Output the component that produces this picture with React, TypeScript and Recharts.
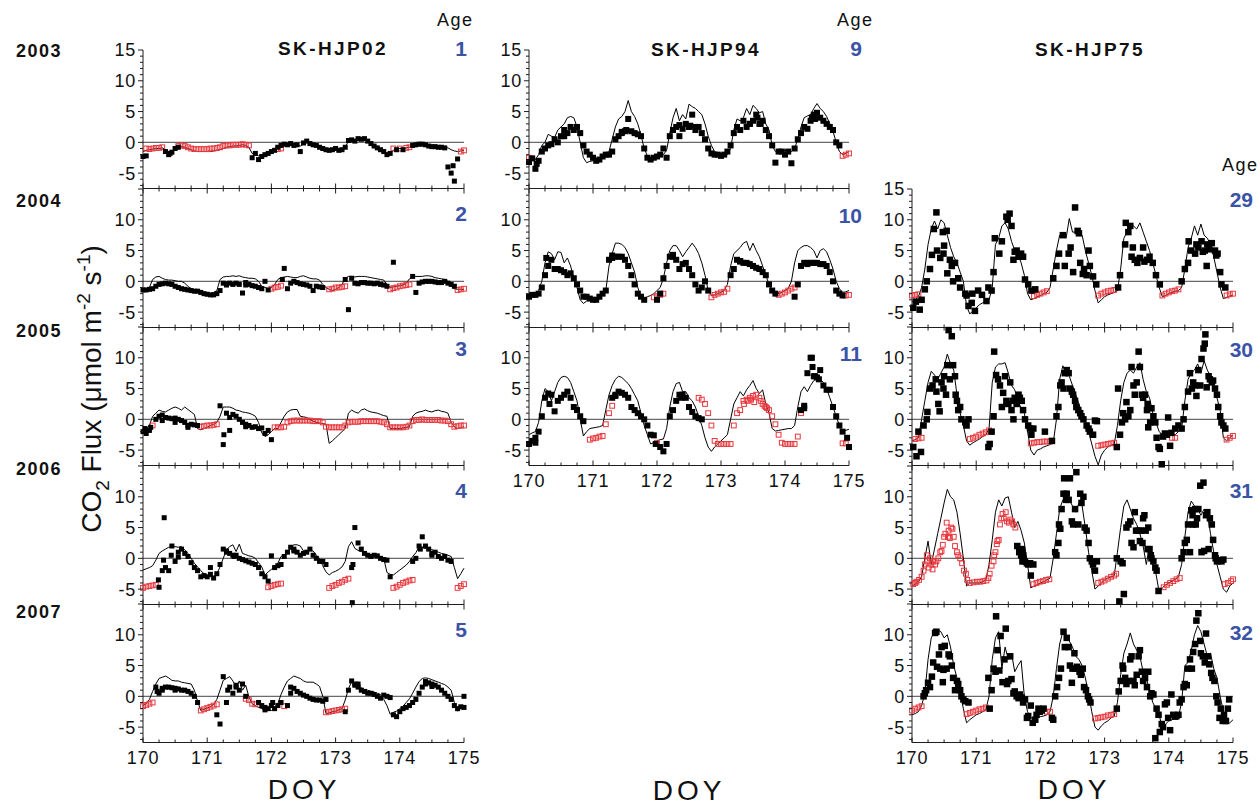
import React from 'react';
import { ComposedChart, Line, Scatter, XAxis, YAxis, ReferenceLine } from 'recharts';

const n = null;

// ---- axis ticks / labels ----
const xTicks = [170, 170.25, 170.5, 170.75, 171, 171.25, 171.5, 171.75, 172, 172.25, 172.5, 172.75, 173, 173.25, 173.5, 173.75, 174, 174.25, 174.5, 174.75, 175];
const xTickLabels = ['170', '171', '172', '173', '174', '175'];
const yTicks = [-7, -6, -5, -4, -3, -2, -1, 0, 1, 2, 3, 4, 5, 6, 7, 8, 9, 10, 11, 12, 13, 14, 15];
const yLabelsTop = [-5, 0, 5, 10, 15];
const yLabelsRest = [-5, 0, 5, 10];

const siteNames = ['SK-HJP02', 'SK-HJP94', 'SK-HJP75'];
const yearLabels = ['2003', '2004', '2005', '2006', '2007'];
const agesHJP02 = ['1', '2', '3', '4', '5'];
const agesHJP94 = ['9', '10', '11'];
const agesHJP75 = ['29', '30', '31', '32'];

// ---- SK-HJP02 (grid: DOY 170 .. 175 every 0.05 day) ----
const m02_03 = [
  -1.5, -1.3, -1.2, -1.1, -1.0, -1.0, -0.9, -1.2, -1.6, -1.5, -1.0, -0.8, -0.7, -0.8, -1.0, -1.2, -1.4, -1.5, -1.5, -1.5,
  -1.5, -1.5, -1.4, -1.3, -1.2, -1.0, -0.8, -0.7, -0.6, -0.6, -0.5, -0.4, -0.5, -0.8, -1.8, -2.0, -2.2, -2.0, -1.8, -1.6,
  -1.3, -1.0, -0.9, -0.8, -0.5, -0.3, -0.3, -0.3, -0.4, -0.6, -0.3, 0.0, -0.2, -0.4, -0.6, -0.8, -1.0, -1.2, -1.3, -1.2,
  -1.0, -1.2, -1.1, -0.8, 0.2, 0.4, 0.3, 0.5, 0.5, 0.4, 0.1, -0.2, -0.6, -0.9, -1.2, -1.4, -1.8, -1.7, -1.3, -1.1,
  -1.0, -1.0, -0.9, -0.8, -0.5, -0.4, -0.4, -0.4, -0.5, -0.6, -0.7, -0.7, -0.8, -0.8, -0.8, -0.9, -1.2, -1.4, -1.5, -1.4,
  -1.3];
const o02_03 = [
  -2.3, -2.2, n, n, n, n, n, -1.5, -2.0, -1.6, -1.0, -0.8, n, n, n, n, n, n, n, n,
  n, n, n, n, n, n, n, n, n, n, n, n, n, n, -2.5, -1.8, -2.8, -2.3, -2.0, -1.8,
  -1.5, -1.3, -0.8, -0.5, -0.3, -0.4, -0.2, -0.5, -0.4, -1.5, -0.1, 0.2, -0.2, -0.4, -0.5, -0.8, -1.0, -1.2, -1.3, -1.2,
  -1.0, -1.3, -1.2, -0.8, 0.3, 0.4, 0.2, 0.6, 0.5, 0.6, 0.2, -0.2, -0.6, -0.9, -1.2, -1.5, -2.0, -1.8, n, -1.2,
  n, -1.2, n, n, -0.5, -0.4, -0.3, -0.3, -0.4, -0.6, -0.7, -0.7, -0.8, -0.8, -0.9, -4.0, -5.0, -6.3, -2.7, n,
  n];
const x02_03 = [[174.83, -3.8], [170.42, -1.8]];
const g02_03 = [
  n, -1.0, -1.1, -1.0, -0.9, -0.9, -0.8, n, n, n, n, -0.6, -0.5, -0.6, -0.8, -1.0, -1.1, -1.1, -1.1, -1.1,
  -1.1, -1.0, -1.0, -0.9, -0.8, -0.6, -0.5, -0.5, -0.4, -0.4, -0.4, -0.3, -0.4, -0.5, n, n, n, n, n, n,
  n, n, -1.1, -1.0, n, n, n, n, n, n, n, n, n, n, n, n, n, n, n, n,
  n, n, n, n, n, n, n, n, n, n, n, n, n, n, n, n, n, n, -1.0, n,
  -1.0, n, -0.9, -0.8, n, n, n, n, n, n, n, n, n, n, n, n, n, n, n, -1.5,
  -1.3];

const m02_04 = [
  -1.3, -1.3, -1.0, 0.3, 0.7, 0.8, 0.5, 0.3, 0.2, 0.2, 0.1, 0.0, 0.0, -0.3, -0.8, -1.2, -1.5, -1.7, -1.9, -2.0,
  -2.2, -2.0, -1.8, -1.5, 0.3, 0.7, 0.8, 0.8, 0.9, 0.8, 0.9, 0.7, 0.6, 0.5, 0.5, 0.4, 0.0, -0.8, -1.0, -1.2,
  -1.0, -0.5, 0.3, 0.6, 0.7, 0.8, 0.7, 0.6, 0.6, 0.8, 0.9, 0.7, 0.5, 0.4, 0.4, 0.2, -0.5, -1.0, -1.3, -1.5,
  -1.3, -1.0, -0.5, 0.5, 0.8, 0.8, 0.7, 0.8, 0.8, 0.8, 0.7, 0.6, 0.5, 0.4, 0.3, 0.2, -0.5, -1.0, -0.9, -0.8,
  -0.7, -0.6, -0.3, 0.4, 0.7, 0.8, 0.8, 0.8, 0.9, 0.9, 0.8, 0.6, 0.5, 0.4, 0.3, 0.0, -0.8, -1.2, -1.3, -1.3,
  -1.3];
const o02_04 = [
  -1.4, -1.4, -1.3, -1.2, -0.8, -0.5, -0.4, -0.3, -0.4, -0.5, -0.8, -1.0, -1.2, -1.3, -1.4, -1.5, -1.6, -1.6, -1.8, -2.0,
  -2.1, -2.2, -2.2, -2.0, -1.5, -0.3, -0.4, -0.3, -0.5, -0.3, -0.5, -1.9, -0.6, -0.5, -0.7, -0.8, -1.0, -1.2, 0.0, -1.4,
  n, n, n, n, 2.1, -1.2, -0.3, 0.0, -0.2, -0.4, -0.5, -0.6, -0.8, -1.5, -0.8, -0.9, -1.0, n, n, n,
  n, n, n, 0.3, -4.6, 0.5, -0.3, -0.4, -0.2, -0.2, -0.3, -0.3, -0.4, -0.3, -0.5, -0.6, -0.8, n, 3.1, n,
  n, n, n, n, 0.8, -1.8, -0.3, -0.1, 0.0, 0.0, 0.0, -0.1, -0.2, -0.2, 0.0, -0.3, -0.5, -0.8, n, n,
  n];
const x02_04 = [[172.17, 0.3], [171.3, -0.6], [171.6, -0.2]];
const g02_04 = [
  n, n, n, n, n, n, n, n, n, n, n, n, n, n, n, n, n, n, n, n,
  n, n, n, n, n, n, n, n, n, n, n, n, n, n, n, n, n, n, n, n,
  -1.2, -1.0, -0.9, -0.7, n, n, n, n, n, n, n, n, n, n, n, n, n, n, -1.3, -1.2,
  -1.0, -1.0, -0.9, -0.8, n, n, n, n, n, n, n, n, n, n, n, n, n, -1.3, -1.1, -1.0,
  -0.8, -0.7, -0.6, -0.5, n, n, n, n, n, n, n, n, n, n, n, n, n, n, -1.4, -1.3,
  -1.2];

const m02_05 = [
  -2.0, -1.5, -1.0, 0.5, 1.0, 1.5, 1.3, 1.2, 1.5, 1.8, 2.0, 1.8, 1.5, 2.0, 1.6, 1.2, 0.8, -1.5, -1.7, -1.5,
  -1.3, -1.0, -0.8, -0.5, 0.5, 2.0, 2.0, 2.0, 1.8, 1.5, 1.4, 1.2, 1.1, 1.0, 0.8, 0.5, -0.5, -2.2, -2.8, -2.5,
  -2.0, -1.5, -1.5, -0.5, 0.5, 1.2, 1.5, 1.6, 1.6, 0.5, 0.4, 0.3, 0.0, -0.3, -0.5, -0.6, -0.7, -0.8, -3.9, -3.5,
  -3.0, -2.5, -2.0, -1.5, 1.0, 1.5, 1.2, 1.0, 1.5, 1.7, 1.4, 1.2, 1.1, 1.0, 0.8, 0.6, 0.5, -1.5, -1.5, -1.5,
  -1.5, -1.4, -1.3, -1.2, 0.5, 1.0, 1.2, 1.3, 1.5, 1.3, 1.2, 1.4, 1.5, 1.3, 1.2, 1.0, -0.5, -1.2, -1.5, -1.4,
  -1.2];
const o02_05 = [
  -2.0, -2.3, -1.8, n, 0.0, 0.5, 0.7, 0.3, 0.2, 0.1, 0.2, 0.0, -0.2, -0.5, -1.0, -0.8, -0.9, -1.0, n, n,
  n, n, n, n, 2.2, -4.1, 1.0, -1.8, 0.8, 0.5, 0.0, -0.5, -1.2, -1.0, -1.3, -1.2, -1.5, -1.4, -2.3, -1.8,
  -3.3, n, n, n, n, n, n, n, n, n, n, n, n, n, n, n, n, n, n, n,
  n, n, n, n, n, n, n, n, n, n, n, n, n, n, n, n, n, n, n, n,
  n, n, n, n, n, n, n, n, n, n, n, n, n, n, n, n, n, n, n, n,
  n];
const x02_05 = [[171.26, -2.5], [170.03, -1.5], [170.12, -1.3], [170.3, -0.2], [170.5, -0.5], [170.7, -1.3], [171.6, -0.8], [171.35, 0.3]];
const g02_05 = [
  n, n, n, -1.0, n, n, n, n, n, n, n, n, n, n, n, n, n, n, -1.2, -1.1,
  -1.0, -1.0, -0.9, -0.8, n, n, n, n, n, n, n, n, n, n, n, n, n, n, n, n,
  n, -1.3, -1.3, -1.3, -1.2, -0.5, -0.3, -0.2, -0.2, -0.2, -0.2, -0.2, -0.2, -0.3, -0.3, -0.3, -0.5, -1.2, -1.3, -1.3,
  -1.3, -1.3, -1.3, -1.0, -0.5, -0.4, -0.4, -0.4, -0.3, -0.3, -0.3, -0.3, -0.3, -0.3, -0.4, -0.5, -0.8, -1.3, -1.3, -1.3,
  -1.3, -1.3, -1.2, -1.0, -0.3, -0.1, -0.1, 0.0, -0.1, -0.1, -0.1, -0.1, -0.1, -0.2, -0.2, -0.3, -0.8, -1.2, -1.1, -1.0,
  -1.0];

const m02_06 = [
  -1.9, -1.7, -1.5, -1.2, -0.3, 0.8, 1.2, 1.5, 1.8, 1.9, 1.9, 1.8, 1.9, 1.4, 0.8, 0.0, -0.8, -1.4, -2.0, -2.5,
  -2.8, -3.0, -3.0, -2.5, -1.4, 0.0, 1.4, 1.9, 2.2, 1.1, 2.3, 0.8, 0.6, 0.4, 0.3, 0.0, -0.7, -1.4, -2.7, -2.2,
  -1.8, -1.3, -0.8, 0.3, 0.5, 0.8, 1.8, 2.2, 2.2, 2.0, 1.2, 0.8, 1.3, 1.2, 0.5, 0.0, -1.2, -2.2, -2.7, -2.3,
  -2.1, -1.8, -1.4, -0.5, 1.9, 2.7, 1.6, 1.3, 1.1, 1.0, 0.8, 0.6, 0.5, 0.3, 0.2, 0.0, -2.3, -2.6, -2.7, -2.3,
  -1.9, -1.5, -1.1, -0.5, 0.3, 0.9, 1.9, 1.8, 1.6, 1.5, 1.4, 1.2, 1.0, 0.8, 0.7, 0.5, 0.3, -1.5, -3.3, -2.5,
  -1.6];
const o02_06 = [
  n, n, n, n, n, -4.7, -2.0, -1.5, -2.0, 2.0, -0.5, 1.0, 1.5, 0.8, 0.3, -0.7, -1.5, -2.0, -3.0, -2.8,
  -3.0, -1.5, -3.2, -2.5, -1.0, 1.5, 1.0, 0.8, 0.5, 0.5, 0.0, -0.2, -0.4, -0.6, -0.8, -1.0, -1.5, -2.5, -3.0, -3.7,
  0.4, -1.5, -1.2, -1.0, 0.3, 1.0, 1.8, 1.5, 1.0, 0.5, 0.8, 1.0, 1.5, 0.5, 0.0, -0.5, -0.5, -1.0, n, n,
  n, n, n, n, n, -1.5, 5.0, 2.5, 1.5, 0.8, 0.5, 0.3, 0.5, 0.4, 0.0, -0.2, -0.3, -3.0, n, n,
  n, n, n, n, -0.5, 0.0, 2.0, 3.5, 2.0, 1.5, 0.5, 1.0, 0.3, 0.0, 0.3, -0.3, -0.5, n, n, n,
  n];
const x02_06 = [[170.24, -3.5], [170.33, 6.6], [170.32, -0.3], [170.44, 0.5], [170.55, 0.2], [171.3, 1.2], [171.42, 0.3], [173.26, -7.2], [173.27, -1.0], [172.35, 1.2], [174.32, 1.5], [174.5, 0.8], [171.05, -2.6]];
const g02_06 = [
  -4.8, -4.6, -4.5, -4.4, -4.3, n, n, n, n, n, n, n, n, n, n, n, n, n, n, n,
  n, n, n, n, n, n, n, n, n, n, n, n, n, n, n, n, n, n, n, -4.7,
  -4.5, -4.3, -4.2, -4.1, n, n, n, n, n, n, n, n, n, n, n, n, n, n, -4.8, -4.5,
  -4.3, -4.0, -3.8, -3.5, -3.3, n, n, n, n, n, n, n, n, n, n, n, n, n, -4.8, -4.6,
  -4.3, -4.0, -3.8, -3.6, -3.5, n, n, n, n, n, n, n, n, n, n, n, n, n, -4.8, -4.5,
  -4.2];

const m02_07 = [
  -1.5, -1.2, -0.5, 0.8, 2.0, 2.9, 3.1, 3.3, 3.0, 2.6, 2.5, 2.5, 2.3, 2.2, 2.1, 2.0, 1.0, -0.8, -2.3, -2.1,
  -1.9, -1.7, -1.3, -0.5, 1.0, 2.6, 2.9, 3.2, 2.5, 1.5, 2.5, 1.0, 1.8, -0.1, -1.2, -1.5, -1.8, -2.0, -2.1, -2.2,
  -2.3, -2.0, -1.2, 0.3, 1.5, 2.5, 2.9, 3.3, 3.1, 2.9, 2.5, 2.3, 2.3, 2.3, 2.0, 1.6, 0.0, -2.8, -2.7, -2.5,
  -2.4, -2.2, -2.0, -0.6, 1.2, 2.4, 2.2, 1.8, 1.4, 1.1, 1.0, 0.8, 0.7, 0.5, 0.3, -0.5, -1.5, -2.9, -2.6, -2.4,
  -2.0, -1.6, -1.0, -0.4, 0.5, 1.5, 2.4, 2.9, 3.0, 2.9, 2.7, 2.5, 2.3, 2.1, 1.9, 1.5, 1.0, -1.0, -2.4, -1.9,
  -1.5];
const o02_07 = [
  n, n, n, n, 1.5, 0.5, 1.3, 1.5, 1.5, 1.4, 1.3, 1.2, 1.0, 1.0, 0.8, 0.5, 0.0, -1.0, n, n,
  n, n, n, -3.0, -4.5, 3.2, -1.0, 1.5, 0.5, 1.5, 1.0, 2.0, 0.0, n, n, n, -1.0, -1.5, -1.8, -2.0,
  -1.5, -2.0, -1.5, -1.0, n, -1.5, 0.5, 1.3, 0.8, 0.5, 0.2, 0.0, -0.3, -0.5, -0.6, -0.6, -0.8, -0.5, n, n,
  n, n, n, -2.5, 1.0, 2.5, 2.0, 1.5, 1.0, 0.8, 0.5, 0.5, 0.3, 0.0, -0.3, 0.2, 0.0, -0.2, -3.0, -3.3,
  -2.5, -2.0, -1.8, -1.5, -1.0, -0.5, 0.5, 1.5, 2.0, 2.2, 2.0, 1.8, 1.5, 1.0, 0.5, 0.0, -0.5, -1.5, -2.0, -1.7,
  -1.8];
const x02_07 = [[175.0, 0.0], [170.22, 0.8], [170.3, 1.0], [170.5, 1.0], [171.32, 1.0], [171.45, 1.8], [172.3, 1.5], [173.3, 1.8], [173.35, 2.0], [174.4, 2.4], [174.5, 1.6], [171.9, -2.2], [172.02, -1.0]];
const g02_07 = [
  -1.6, -1.4, -1.2, -1.0, n, n, n, n, n, n, n, n, n, n, n, n, n, n, -2.3, -2.1,
  -1.9, -1.7, -1.5, -1.3, n, n, n, n, n, n, n, n, -0.4, -0.6, -1.2, -1.3, n, n, n, n,
  n, n, n, n, -1.6, n, n, n, n, n, n, n, n, n, n, n, n, -2.6, -2.5, -2.4,
  -2.3, -2.2, -2.1, -2.0, n, n, n, n, n, n, n, n, n, n, n, n, n, n, n, n,
  n, n, n, n, n, n, n, n, n, n, n, n, n, n, n, n, n, n, n, n,
  n];

// ---- SK-HJP94 ----
const m94_03 = [
  -3.4, -3.0, -2.8, -2.0, -0.5, 0.0, 1.3, 1.0, 0.8, 2.0, 2.5, 3.0, 4.0, 4.2, 4.0, 2.5, 0.0, -2.5, -3.3, -3.1,
  -3.0, -2.7, -2.5, -2.2, -2.0, -1.5, 0.5, 2.5, 3.8, 4.2, 5.0, 6.8, 5.0, 4.2, 3.0, 1.2, -1.0, -2.2, -2.5, -2.4,
  -2.3, -2.2, -2.0, -1.3, 1.5, 4.0, 5.5, 3.5, 4.5, 3.8, 6.2, 5.8, 5.5, 5.0, 4.5, 3.0, 1.0, -0.5, -1.5, -1.8,
  -2.0, -2.0, -2.0, -1.0, 2.0, 3.8, 3.5, 4.0, 5.5, 4.5, 6.0, 5.5, 4.8, 5.0, 3.0, 2.0, -0.5, -1.5, -1.5, -1.4,
  -1.3, -1.4, -1.5, -1.0, 0.5, 2.5, 4.0, 4.3, 4.5, 5.5, 6.3, 5.5, 5.0, 4.2, 3.0, 1.8, 0.0, -1.5, -2.0, -1.8,
  -1.5];
const o94_03 = [
  -3.2, -2.6, -4.3, -3.0, -1.5, -1.0, -0.5, -0.3, 0.5, 0.0, 1.0, 2.0, 1.5, 2.5, 2.0, 2.5, 1.5, -0.5, -1.5, -2.0,
  -2.5, -3.0, -2.8, -2.3, -2.0, -2.0, -1.5, 0.5, 1.0, 1.5, 1.8, 3.8, 1.8, 1.5, 1.3, 1.0, -1.0, -2.5, -2.8, -2.5,
  -2.3, -2.0, -1.0, -2.5, 1.0, 2.0, 2.5, 1.0, 2.2, 3.0, 2.5, 4.5, 2.5, 2.5, 1.5, 0.5, -1.0, -1.8, -2.0, -2.0,
  -2.2, -2.0, -1.5, -0.5, 1.5, 2.5, 2.0, 3.5, 2.5, 3.0, 3.5, 4.5, 3.0, 3.5, 2.0, 1.0, -0.5, -3.3, -1.5, -1.5,
  -2.0, -1.5, -3.4, -1.0, 0.5, 1.5, 2.5, 2.2, 3.5, 4.5, 4.8, 4.0, 3.5, 3.0, 2.5, 2.0, 0.0, -0.5, n, n,
  n];
const x94_03 = [[170.55, 1.0], [171.45, 1.7], [171.52, 2.0], [172.35, 2.8], [172.52, 2.7], [173.45, 3.0], [173.57, 4.0], [174.42, 4.0], [174.47, 3.8], [170.12, -3.5], [172.6, 2.0], [173.62, 3.0]];
const g94_03 = [
  -2.5, n, n, n, n, n, n, n, n, n, n, n, n, n, n, n, n, n, n, n,
  n, n, n, n, n, n, n, n, n, n, n, n, n, n, n, n, n, n, n, n,
  n, n, n, n, n, n, n, n, n, n, n, n, n, n, n, n, n, n, n, n,
  n, n, n, n, n, n, n, n, n, n, n, n, n, n, n, n, n, n, n, n,
  n, n, n, n, n, n, n, n, n, n, n, n, n, n, n, n, n, n, -2.2, -2.0,
  -1.8];

const m94_04 = [
  -2.2, -2.0, -2.0, -1.5, 0.0, 3.0, 4.8, 4.5, 3.5, 4.8, 4.7, 3.0, 3.8, 2.5, 0.5, -1.0, -3.0, -3.6, -3.2, -2.8,
  -3.0, -3.0, -2.5, -2.2, -1.5, 2.5, 4.5, 6.2, 6.2, 6.0, 5.5, 4.5, 3.0, 1.5, -1.0, -2.5, -2.8, -2.5, -2.3, -2.0,
  -1.5, -1.0, 0.5, 3.0, 5.0, 5.8, 5.8, 5.0, 4.0, 4.8, 5.5, 6.2, 5.5, 4.5, 3.0, 1.0, -1.5, -2.3, -2.2, -2.0,
  -1.8, -1.5, -0.5, 2.5, 4.5, 5.0, 5.5, 6.2, 6.5, 5.0, 6.2, 5.0, 4.0, 2.5, 1.0, -0.5, -1.5, -2.0, -2.0, -1.8,
  -1.5, -1.2, 0.0, 3.0, 5.0, 5.5, 5.8, 5.8, 5.5, 5.0, 3.8, 5.0, 5.3, 4.8, 3.5, 2.0, 0.0, -1.2, -1.8, -1.7,
  -1.5];
const o94_04 = [
  -2.5, -2.2, -2.2, -2.0, -1.0, 1.0, 2.5, 3.5, 2.0, 2.0, 1.8, 1.5, 1.0, 1.3, 0.5, -0.5, -1.5, -2.5, -2.5, -2.8,
  -3.0, -3.0, -2.5, -2.0, -1.5, 3.5, 3.8, 4.0, 4.0, 4.0, 3.5, 2.5, 1.0, -0.5, -2.0, -2.5, -3.0, n, n, n,
  -3.0, -2.0, 0.5, 2.5, 4.0, 4.3, 3.5, 2.0, 2.8, 3.0, 2.0, 1.0, -0.5, -1.5, -1.0, 0.0, -1.5, n, n, n,
  n, n, n, 1.0, 2.0, 3.5, 3.3, 3.0, 3.0, 2.8, 2.5, 2.2, 2.0, 1.5, 1.0, -0.5, -1.5, -2.0, n, n,
  n, n, n, -2.5, -0.5, 2.5, 3.0, 3.0, 3.0, 3.0, 3.0, 2.8, 2.8, 2.5, 1.5, 0.0, -1.5, -2.0, -2.3, n,
  n];
const x94_04 = [[170.27, 3.8], [171.3, 4.2], [172.25, 4.0], [173.3, 3.2], [174.35, 2.8]];
const g94_04 = [
  n, n, n, n, n, n, n, n, n, n, n, n, n, n, n, n, n, n, n, n,
  n, n, n, n, n, n, n, n, n, n, n, n, n, n, n, n, n, n, n, -2.6,
  -2.4, -2.2, -2.0, n, n, n, n, n, n, n, n, n, n, n, n, n, n, -2.6, -2.2, -2.0,
  -1.8, -1.7, -1.2, n, n, n, n, n, n, n, n, n, n, n, n, n, n, n, -2.2, -2.0,
  -1.8, -1.5, -1.2, -1.0, n, n, n, n, n, n, n, n, n, n, n, n, n, n, n, -2.3,
  -2.2];

const m94_05 = [
  -2.5, -2.2, -2.0, -0.5, 3.0, 5.0, 4.5, 3.0, 4.5, 6.0, 6.8, 7.0, 6.8, 6.0, 4.5, 3.0, 0.0, -2.7, -2.0, -1.5,
  -1.4, -1.3, -1.2, -1.0, 1.5, 4.0, 5.5, 6.5, 7.0, 6.8, 6.3, 5.8, 5.0, 4.0, 3.0, 1.0, -1.0, -2.5, -4.0, -3.8,
  -3.5, -3.3, -3.2, -1.5, 2.0, 4.5, 5.8, 6.0, 4.5, 4.5, 3.5, 3.0, 2.0, 0.5, -1.0, -3.0, -4.5, -5.2, -4.5, -4.0,
  -3.5, -3.0, -2.5, 0.0, 2.5, 3.5, 4.5, 3.8, 4.8, 5.5, 6.3, 5.0, 4.2, 4.8, 2.5, 1.0, -1.5, -1.9, -1.8, -1.7,
  -1.6, -1.5, -1.5, -1.0, 2.0, 4.5, 5.3, 4.5, 5.5, 6.3, 6.8, 6.5, 6.0, 5.0, 3.5, 2.0, 0.5, -1.0, -2.0, -1.8,
  -1.6];
const o94_05 = [
  -4.0, -3.5, -3.8, -2.0, 0.5, 3.5, 4.2, 4.0, 1.3, 3.0, 3.5, 4.0, 4.5, 3.5, 2.0, 1.5, 0.5, -0.3, n, n,
  n, n, n, n, n, n, 3.5, 4.0, 4.5, 4.3, 4.0, 3.5, 2.0, 1.5, 1.0, 0.5, 0.0, -1.0, -2.5, -2.6,
  n, -4.5, -5.2, -4.0, 0.5, 1.5, 3.0, 4.0, 4.0, 3.5, 2.0, 1.2, 0.5, 0.2, 0.0, n, n, n, n, n,
  n, n, n, n, n, n, n, n, n, n, n, n, n, n, n, n, n, n, n, n,
  n, n, n, n, n, 1.5, 2.2, 7.5, 10.0, 7.0, 6.8, 8.0, 5.5, 4.8, 4.8, 2.0, 0.5, -1.0, -2.0, n,
  -4.5];
const x94_05 = [[174.43, 8.5], [174.42, 10.0], [174.47, 7.0], [174.53, 6.5], [174.3, 1.8], [174.97, -3.0], [170.1, -3.0], [171.98, -4.0], [170.32, 2.5], [171.35, 3.8], [172.38, 3.5]];
const g94_05 = [
  n, n, n, n, n, n, n, n, n, n, n, n, n, n, n, n, n, n, n, -3.3,
  -3.1, -3.0, -2.8, -2.7, -0.8, 1.0, 2.2, n, n, n, n, n, n, n, n, n, n, n, n, n,
  -3.8, n, n, n, n, n, n, n, n, n, n, n, n, 3.5, 3.2, 2.5, 1.0, -1.0, -3.5, -4.0,
  -4.0, -4.0, -4.0, -4.0, -1.0, 1.0, 1.5, 3.0, 3.2, 3.5, 3.8, 4.0, 3.5, 2.5, 2.0, 1.5, 0.5, -0.8, -2.5, -3.8,
  -4.0, -4.0, -4.0, -4.0, -2.8, 1.0, n, n, n, n, n, n, n, n, n, n, n, n, -3.9, -3.9,
  n];
const y94_05 = [[173.36, 2.5], [173.42, 3.0], [173.47, 3.2], [173.52, 2.8], [173.62, 3.0], [173.68, 2.2], [173.72, 1.8]];

// ---- SK-HJP75 ----
const m75_04 = [
  -3.3, -3.0, -2.5, -1.0, 2.0, 6.0, 8.5, 9.8, 8.5, 10.0, 9.5, 7.5, 5.5, 4.0, 3.0, 1.5, 0.0, -4.0, -5.3, -4.8,
  -4.3, -3.8, -3.5, -3.2, -3.0, -1.0, 6.0, 7.0, 9.0, 9.5, 8.5, 6.5, 5.0, 4.5, 3.0, 1.0, -2.0, -3.0, -2.8, -2.5,
  -2.3, -2.0, -1.8, -1.0, 2.0, 5.0, 7.5, 7.8, 7.0, 10.2, 8.0, 8.0, 8.0, 7.5, 5.0, 3.0, 1.0, -1.5, -3.5, -3.0,
  -2.5, -2.2, -2.0, -1.8, -1.5, 2.0, 7.0, 8.0, 8.5, 9.0, 8.5, 9.5, 8.0, 6.5, 5.0, 3.0, 1.0, -1.0, -2.5, -2.3,
  -2.0, -1.8, -1.6, -1.5, -1.0, 2.0, 5.5, 7.0, 9.0, 7.5, 9.3, 7.5, 7.0, 6.0, 4.0, 1.5, -1.0, -2.8, -2.6, -2.4,
  -2.2];
const o75_04 = [
  [170.02, -4.3], [170.06, -3.3], [170.12, -4.6], [170.15, -3.0], [170.2, -1.3], [170.23, 0.0], [170.28, 2.0], [170.31, 4.3], [170.34, 8.5], [170.38, 11.2],
  [170.39, 5.0], [170.44, 3.8], [170.48, 8.0], [170.49, 4.5], [170.5, 5.8], [170.54, 8.2], [170.55, 1.3], [170.59, 3.5], [170.62, 2.5], [170.64, 0.0],
  [170.67, 3.0], [170.72, 0.5], [170.75, -1.0], [170.83, -2.0], [170.85, -2.3], [170.88, -4.0], [170.93, -3.5], [170.94, -2.0], [170.98, -4.8], [171.03, -1.5],
  [171.09, -2.2], [171.16, -3.2], [171.19, -1.0], [171.24, -1.5], [171.27, 1.5], [171.29, 7.0], [171.36, 4.5], [171.4, 6.5], [171.47, 10.5], [171.49, 10.0],
  [171.52, 11.0], [171.55, 9.0], [171.58, 3.5], [171.6, 4.8], [171.63, 5.0], [171.66, 4.0], [171.7, 4.5], [171.73, 4.0], [171.76, 0.3], [171.81, -0.5],
  [171.86, -1.5], [171.92, -1.3], [172.2, 0.5], [172.25, 2.5], [172.29, 4.5], [172.35, 7.5], [172.38, 2.5], [172.44, 4.5], [172.47, 5.5], [172.51, 1.5],
  [172.54, 12.0], [172.58, 8.2], [172.6, 7.8], [172.62, 3.0], [172.66, 1.2], [172.68, 2.0], [172.72, 1.0], [172.75, 5.0], [172.77, 2.5], [172.82, 0.8],
  [172.87, -0.5], [173.21, -1.0], [173.24, 1.0], [173.32, 6.0], [173.33, 9.5], [173.37, 8.0], [173.4, 9.0], [173.42, 4.0], [173.44, 5.5], [173.47, 3.5],
  [173.51, 3.0], [173.55, 3.8], [173.6, 5.5], [173.62, 3.2], [173.66, 3.5], [173.7, 4.0], [173.75, 3.0], [173.8, 1.0], [173.86, -0.5], [174.2, 0.0],
  [174.25, 2.0], [174.3, 3.0], [174.31, 6.5], [174.35, 5.0], [174.41, 4.5], [174.43, 6.0], [174.46, 5.5], [174.51, 6.5], [174.53, 4.8], [174.56, 5.0],
  [174.59, 2.5], [174.6, 6.0], [174.63, 5.2], [174.67, 6.2], [174.72, 5.0], [174.74, 4.2], [174.76, 4.5], [174.8, 1.5], [174.82, -0.5], [174.88, -1.0]];
const g75_04 = [
  -2.3, -2.2, -2.1, n, n, n, n, n, n, n, n, n, n, n, n, n, n, n, n, n,
  n, n, n, n, n, n, n, n, n, n, n, n, n, n, n, n, n, n, -2.4, -2.2,
  -2.0, -1.8, -1.6, n, n, n, n, n, n, n, n, n, n, n, n, n, n, n, -2.3, -2.0,
  -1.8, -1.6, -1.5, -1.4, n, n, n, n, n, n, n, n, n, n, n, n, n, n, -2.3, -2.0,
  -1.8, -1.6, -1.5, -1.3, n, n, n, n, n, n, n, n, n, n, n, n, n, n, -2.3, -2.1,
  -2.0];

const m75_05 = [
  -3.5, -3.3, -3.0, 0.0, 3.0, 6.0, 7.8, 7.2, 6.5, 7.5, 8.5, 10.6, 9.0, 8.0, 4.0, 1.0, -1.0, -3.5, -4.2, -3.8,
  -3.5, -3.2, -2.8, -2.5, -1.5, 6.0, 8.5, 9.0, 9.0, 9.2, 7.5, 5.5, 4.8, 3.0, 1.8, 1.0, -2.0, -5.0, -5.8, -5.0,
  -4.8, -4.5, -4.3, -4.1, -3.8, 0.0, 6.5, 8.7, 7.5, 7.0, 5.5, 4.0, 2.5, 1.0, -0.5, -2.0, -4.0, -6.0, -7.4, -5.8,
  -5.0, -4.5, -4.2, -4.0, -1.0, 3.0, 6.0, 7.5, 8.0, 7.5, 8.5, 9.2, 6.5, 4.5, 3.5, 1.0, -0.5, -2.0, -2.5, -2.5,
  -2.5, -2.5, -2.5, -2.0, -1.5, 3.0, 6.5, 7.5, 8.0, 9.0, 7.5, 9.5, 8.0, 7.0, 5.0, 3.5, 1.5, -3.0, -3.5, -3.0,
  -2.5];
const o75_05 = [
  [170.02, -4.5], [170.07, -6.0], [170.1, -2.0], [170.14, -5.3], [170.18, -1.0], [170.23, 0.0], [170.24, 1.2], [170.28, 5.0], [170.32, 5.5], [170.37, 6.5],
  [170.38, 4.5], [170.41, 2.5], [170.43, 1.3], [170.46, 6.0], [170.49, 5.0], [170.5, 7.0], [170.53, 4.0], [170.55, 8.8], [170.57, 14.5], [170.59, 6.5],
  [170.62, 13.5], [170.64, 8.8], [170.67, 7.0], [170.68, 4.0], [170.7, 3.0], [170.72, 1.5], [170.75, 2.0], [170.77, 0.0], [170.83, -0.5], [170.85, -1.0],
  [170.88, 0.0], [171.19, -4.5], [171.21, -4.0], [171.24, -2.0], [171.27, 0.5], [171.28, 11.0], [171.31, 7.2], [171.34, 6.5], [171.37, 5.5], [171.4, 2.0],
  [171.42, 4.3], [171.45, 7.0], [171.47, 3.0], [171.5, 2.5], [171.53, 6.0], [171.55, 1.5], [171.57, 3.0], [171.58, 0.0], [171.6, 3.5], [171.63, 2.5],
  [171.66, 4.0], [171.68, 3.5], [171.71, 3.0], [171.73, 1.5], [171.76, 0.0], [171.81, -1.0], [171.84, -1.5], [171.86, -2.5], [171.89, -1.5], [172.07, -2.0],
  [172.18, -3.5], [172.25, 0.5], [172.28, 2.0], [172.31, 5.5], [172.33, 6.0], [172.36, 5.0], [172.38, 7.5], [172.41, 8.0], [172.44, 7.5], [172.46, 5.0],
  [172.49, 4.5], [172.51, 4.0], [172.54, 3.0], [172.56, 2.0], [172.59, 1.5], [172.62, 1.0], [172.64, 0.5], [172.67, 0.0], [172.72, -1.0], [172.75, -1.5],
  [172.77, -2.0], [172.82, -2.5], [172.85, -0.2], [172.88, -0.3], [173.19, -4.5], [173.21, 5.0], [173.24, -2.5], [173.27, -0.5], [173.29, 1.0], [173.32, 0.0],
  [173.34, 2.8], [173.37, 0.5], [173.4, 1.5], [173.42, 8.5], [173.45, 5.5], [173.47, 4.0], [173.5, 6.0], [173.53, 11.0], [173.55, 8.5], [173.58, 4.0],
  [173.6, 3.5], [173.63, 4.0], [173.66, 1.5], [173.67, 2.5], [173.68, -1.3], [173.71, -0.5], [173.73, 1.8], [173.76, 0.5], [173.79, -0.5], [173.81, -3.0],
  [173.84, -4.5], [173.86, -4.8], [173.89, -7.3], [173.91, -2.8], [173.94, -2.3], [173.97, -2.5], [173.99, 0.3], [174.02, -4.3], [174.04, -2.2], [174.1, -1.5],
  [174.15, -1.0], [174.2, -1.5], [174.23, 0.0], [174.25, 2.0], [174.3, 4.5], [174.33, 7.5], [174.36, 5.0], [174.38, 6.0], [174.41, 5.5], [174.43, 3.8],
  [174.46, 8.0], [174.49, 5.5], [174.51, 9.8], [174.54, 11.5], [174.56, 12.3], [174.57, 13.8], [174.59, 5.2], [174.62, 7.0], [174.64, 6.5], [174.67, 6.0],
  [174.69, 6.3], [174.72, 5.0], [174.75, 4.0], [174.77, 2.0], [174.8, 0.5], [174.82, -0.5], [174.85, -1.0], [174.88, -1.5]];
const g75_05 = [
  n, -3.2, -3.1, -3.0, n, n, n, n, n, n, n, n, n, n, n, n, n, n, -3.2, -3.0,
  -2.8, -2.5, -2.3, -2.1, -1.8, n, n, n, n, n, n, n, n, n, n, n, n, -3.9, -3.8, -3.7,
  -3.7, -3.6, -3.6, -3.6, n, n, n, n, n, n, n, n, n, n, n, n, n, n, -4.3, -4.2,
  -4.1, -4.0, -3.9, -3.8, n, n, n, n, n, n, n, n, n, n, n, n, n, n, n, n,
  n, -3.0, -3.0, n, n, n, n, n, n, n, n, n, n, n, n, n, n, n, -3.3, -3.0,
  -2.7];

const m75_06 = [
  -4.5, -4.2, -3.8, -3.0, 0.0, 2.8, -1.0, 1.5, 4.0, 6.5, 9.0, 11.2, 10.0, 9.5, 7.5, 4.0, 0.0, -4.5, -4.0, -4.0,
  -4.0, -4.0, -3.8, -3.5, -1.0, 3.0, 7.5, 9.5, 8.5, 9.8, 10.0, 7.5, 5.0, 6.0, 4.5, 2.5, -1.0, -4.8, -4.5, -4.3,
  -4.0, -3.8, -3.5, -3.2, 0.0, 4.0, 8.0, 9.5, 9.8, 9.5, 8.5, 7.5, 9.0, 8.5, 5.0, 1.0, -2.0, -5.0, -4.5, -4.0,
  -3.5, -3.2, -3.0, -2.8, 1.0, 5.0, 8.5, 9.5, 8.0, 6.5, 5.5, 4.0, 2.0, -1.0, 2.0, -1.0, -2.5, -5.5, -4.8, -4.3,
  -4.0, -3.7, -3.4, -3.0, -1.0, 3.5, 7.5, 9.3, 8.5, 8.0, 7.0, 8.0, 7.5, 4.0, 1.0, -1.0, -3.0, -5.0, -5.5, -4.5,
  -4.0];
const o75_06 = [
  [171.64, 2.0], [171.67, 1.0], [171.7, 0.5], [171.71, 1.5], [171.72, -0.5], [171.73, 0.5], [171.76, -0.5], [171.79, -0.8], [171.81, -1.0], [171.84, -0.8],
  [171.85, -2.8], [171.89, -1.0], [172.23, 1.0], [172.25, 0.5], [172.28, 2.5], [172.29, 5.5], [172.31, 4.8], [172.33, 8.0], [172.36, 10.5], [172.37, 13.0],
  [172.4, 9.5], [172.41, 10.5], [172.44, 9.5], [172.46, 13.0], [172.49, 6.0], [172.51, 5.5], [172.54, 8.0], [172.56, 14.0], [172.59, 5.5], [172.62, 10.5],
  [172.64, 9.0], [172.67, 10.0], [172.69, 5.0], [172.72, 4.5], [172.75, 2.5], [172.77, 0.0], [172.8, -0.5], [172.82, -1.0], [172.85, -2.0], [172.88, -0.5],
  [173.19, 0.0], [173.23, -7.0], [173.25, -0.5], [173.28, -0.8], [173.3, -5.8], [173.34, 5.0], [173.37, 5.5], [173.4, 6.0], [173.42, 2.5], [173.45, 1.8],
  [173.47, 7.5], [173.49, 4.5], [173.53, 4.5], [173.55, 2.8], [173.57, 4.5], [173.59, 2.5], [173.6, 6.5], [173.62, 7.0], [173.64, 4.5], [173.67, 1.5],
  [173.68, 5.0], [173.7, 1.5], [173.72, 0.5], [173.73, 0.0], [173.76, -0.5], [173.79, -1.5], [173.81, -2.0], [173.84, -5.3], [174.2, 0.0], [174.23, 1.0],
  [174.25, 2.5], [174.28, 3.0], [174.3, 5.5], [174.33, 1.0], [174.35, 7.8], [174.37, 7.0], [174.38, 5.5], [174.41, 8.0], [174.42, 5.5], [174.44, 6.5],
  [174.46, 8.0], [174.49, 11.8], [174.51, 1.0], [174.54, 12.3], [174.55, 1.2], [174.58, 7.0], [174.6, 7.5], [174.62, 1.5], [174.64, 6.5], [174.67, 5.5],
  [174.69, 3.0], [174.72, 0.5], [174.73, 0.0], [174.75, -0.5], [174.78, -0.3], [174.82, -0.5], [174.85, -0.2]];
const g75_06 = [
  [170.02, -4.2], [170.05, -4.0], [170.07, -3.8], [170.11, -3.5], [170.15, -3.0], [170.18, -2.0], [170.2, -1.0], [170.23, 0.5], [170.24, -0.5], [170.26, -1.5],
  [170.28, 0.0], [170.3, -1.0], [170.32, -1.8], [170.33, -0.5], [170.36, -1.0], [170.38, -0.5], [170.41, 0.0], [170.44, 1.0], [170.46, 1.2], [170.48, 2.2],
  [170.5, 3.5], [170.52, 4.0], [170.54, 5.8], [170.56, 3.5], [170.57, 4.5], [170.59, 3.3], [170.61, 5.0], [170.63, 4.8], [170.65, 3.5], [170.67, 2.0],
  [170.7, 1.0], [170.72, 0.5], [170.75, 0.0], [170.78, -0.8], [170.81, -2.0], [170.84, -2.5], [170.86, -3.5], [170.9, -4.0], [170.96, -3.9], [171.01, -3.8],
  [171.06, -3.8], [171.11, -3.7], [171.16, -3.6], [171.19, -3.2], [171.21, -2.5], [171.24, -1.2], [171.27, -0.5], [171.28, 0.5], [171.3, 1.0], [171.32, 2.3],
  [171.33, 2.8], [171.35, 3.0], [171.37, 5.5], [171.39, 6.5], [171.41, 7.2], [171.43, 6.5], [171.46, 7.5], [171.48, 6.0], [171.51, 5.8], [171.53, 6.3],
  [171.56, 6.0], [171.58, 5.5], [171.61, 5.0], [171.89, -4.2], [171.94, -4.0], [171.99, -3.8], [172.04, -3.7], [172.09, -3.5], [172.14, -3.4],
  [172.9, -4.0], [172.95, -3.8], [173.0, -3.6], [173.05, -3.3], [173.1, -3.0], [173.15, -2.8], [173.18, -2.5],
  [173.92, -4.7], [173.97, -4.3], [174.02, -4.0], [174.07, -3.7], [174.12, -3.4], [174.17, -3.2],
  [174.87, -4.2], [174.92, -4.0], [174.97, -3.7], [175.0, -3.4]];

const m75_07 = [
  -3.0, -2.8, -2.5, -1.5, 0.5, 6.0, 9.5, 10.5, 10.8, 10.5, 9.5, 10.0, 8.0, 5.0, 3.0, 0.5, -2.0, -4.3, -3.8, -3.4,
  -3.0, -2.8, -2.5, -2.2, 0.0, 6.0, 9.5, 10.5, 4.5, 8.0, 6.0, 7.0, 4.0, 5.0, 5.8, 0.0, -2.5, -3.5, -3.5, -3.5,
  -3.3, -3.2, -3.0, -2.5, 0.0, 4.5, 8.5, 10.5, 9.5, 9.0, 8.0, 6.5, 6.0, 5.0, 3.0, 0.5, -2.5, -5.0, -5.5, -4.8,
  -4.3, -4.0, -3.5, -3.2, -1.0, 3.5, 7.0, 8.5, 10.3, 8.5, 7.5, 6.5, 4.0, 3.0, 1.0, -1.0, -2.0, -3.0, -5.2, -4.5,
  -4.0, -3.8, -3.5, -3.3, -1.0, 5.0, 5.5, 7.5, 10.0, 11.5, 10.5, 8.5, 6.5, 7.0, 4.5, 3.0, 0.0, -2.5, -4.5, -4.3,
  -3.8];
const o75_07 = [
  [170.18, 0.0], [170.2, 0.5], [170.22, 1.0], [170.25, 2.2], [170.28, 1.5], [170.31, 3.2], [170.33, 5.5], [170.36, 10.3], [170.38, 10.5], [170.39, 4.8],
  [170.42, 6.8], [170.44, 4.5], [170.46, 8.0], [170.48, 2.3], [170.49, 4.3], [170.51, 8.2], [170.54, 4.5], [170.57, 6.8], [170.59, 6.5], [170.62, 5.0],
  [170.64, 3.0], [170.67, 1.0], [170.7, 2.5], [170.72, 2.0], [170.75, 1.0], [170.77, 0.0], [170.8, -0.5], [170.83, -0.8], [170.88, -1.0], [171.19, 3.0],
  [171.21, -2.0], [171.24, 1.0], [171.27, 4.5], [171.3, 4.0], [171.31, 13.0], [171.33, 7.5], [171.36, 4.2], [171.38, 9.8], [171.41, 2.3], [171.44, 6.0],
  [171.46, 11.0], [171.48, 2.0], [171.5, 2.5], [171.53, 6.5], [171.55, 2.8], [171.58, 0.5], [171.6, 0.8], [171.63, 0.0], [171.66, -0.3], [171.68, 0.3],
  [171.71, -0.2], [171.73, -1.0], [171.76, -0.5], [171.79, -3.5], [171.81, -3.2], [171.85, -1.5], [171.88, -4.3], [171.92, -3.8], [171.94, -3.0], [171.97, -2.0],
  [171.99, -2.5], [172.02, -2.3], [172.05, -2.0], [172.18, -3.5], [172.2, -3.8], [172.23, 0.0], [172.26, 1.5], [172.29, 3.0], [172.32, 4.5], [172.36, 10.5],
  [172.38, 8.0], [172.41, 9.5], [172.44, 8.0], [172.46, 5.0], [172.49, 2.2], [172.5, 4.5], [172.53, 7.0], [172.55, 4.5], [172.57, 4.8], [172.61, 4.0],
  [172.63, 3.5], [172.66, 4.5], [172.68, 1.5], [172.71, 1.0], [172.74, 0.0], [172.76, -0.5], [172.78, -1.0], [173.19, -2.0], [173.22, 0.8], [173.25, 2.5],
  [173.28, 5.0], [173.29, 4.5], [173.32, 3.0], [173.34, 2.0], [173.37, 2.5], [173.4, 6.0], [173.42, 6.5], [173.45, 2.5], [173.47, 1.8], [173.5, 3.5],
  [173.53, 6.5], [173.55, 7.5], [173.58, 4.0], [173.6, 2.5], [173.63, 3.0], [173.66, 1.5], [173.68, 4.0], [173.71, 0.0], [173.73, 0.5], [173.76, 0.3],
  [173.79, -6.8], [173.81, -2.0], [173.84, -3.0], [173.86, -5.8], [173.89, -4.5], [173.91, -5.0], [173.94, -1.3], [173.97, -1.0], [173.99, -3.5], [174.02, -5.5],
  [174.04, 0.3], [174.07, -3.0], [174.1, -3.3], [174.12, -3.2], [174.15, -3.0], [174.17, -1.0], [174.2, -0.5], [174.23, 1.5], [174.25, 2.0], [174.28, 1.8],
  [174.3, 4.5], [174.33, 6.0], [174.36, 4.5], [174.38, 7.2], [174.41, 8.5], [174.43, 12.3], [174.46, 13.5], [174.49, 9.0], [174.5, 7.0], [174.53, 6.5],
  [174.56, 5.5], [174.58, 10.2], [174.61, 6.5], [174.63, 5.2], [174.66, 3.8], [174.68, 3.0], [174.71, 2.5], [174.74, 0.0], [174.76, -1.0], [174.79, -3.5],
  [174.81, -2.0], [174.84, -4.0], [174.86, -3.0], [174.89, -4.0], [174.92, -2.0], [174.94, -0.5]];
const g75_07 = [
  -2.3, -2.0, -1.8, -1.6, n, n, n, n, n, n, n, n, n, n, n, n, n, -2.9, -2.7, -2.5,
  -2.3, -2.1, -2.0, -1.8, n, n, n, n, n, n, n, n, n, n, n, n, n, n, n, n,
  n, n, -2.5, -2.5, n, n, n, n, n, n, n, n, n, n, n, n, n, -3.6, -3.5, -3.4,
  -3.3, -3.1, -3.0, -2.9, n, n, n, n, n, n, n, n, n, n, n, n, n, n, n, n,
  n, n, n, n, n, n, n, n, n, n, n, n, n, n, n, n, n, n, n, n,
  n];

// ---- helpers to turn arrays into points ----
const gridPts = (vals) => {
  const out = [];
  vals.forEach((v, i) => {
    if (v !== null && v !== undefined) out.push({ x: Math.round((170 + i * 0.05) * 100) / 100, y: v });
  });
  return out;
};
const pairPts = (pairs) => pairs.map(([x, y]) => ({ x, y }));

// ---- layout ----
const FONT = "'Liberation Sans', Arial, Helvetica, sans-serif";
const COLS = [
  { left: 143, width: 321 },
  { left: 529, width: 320 },
  { left: 912, width: 321 },
];
const ROW_TOPS = [50, 188.5, 327, 465.5, 604];
const PH = 138.5;
const YW = 50;
const MT = 14;
const MR = 24;
const AXIS = '#1e1e1e';
const RED = '#e8363c';

const panels = [
  { col: 0, row: 0, model: m02_03, obs: gridPts(o02_03).concat(pairPts(x02_03)), gap: gridPts(g02_03), top: true, xl: false, below: true, sq: 5 },
  { col: 0, row: 1, model: m02_04, obs: gridPts(o02_04).concat(pairPts(x02_04)), gap: gridPts(g02_04), top: false, xl: false, below: true, sq: 5 },
  { col: 0, row: 2, model: m02_05, obs: gridPts(o02_05).concat(pairPts(x02_05)), gap: gridPts(g02_05), top: false, xl: false, below: true, sq: 5 },
  { col: 0, row: 3, model: m02_06, obs: gridPts(o02_06).concat(pairPts(x02_06)), gap: gridPts(g02_06), top: false, xl: false, below: true, sq: 5 },
  { col: 0, row: 4, model: m02_07, obs: gridPts(o02_07).concat(pairPts(x02_07)), gap: gridPts(g02_07), top: false, xl: true, below: false, sq: 5 },
  { col: 1, row: 0, model: m94_03, obs: gridPts(o94_03).concat(pairPts(x94_03)), gap: gridPts(g94_03), top: true, xl: false, below: true, sq: 6 },
  { col: 1, row: 1, model: m94_04, obs: gridPts(o94_04).concat(pairPts(x94_04)), gap: gridPts(g94_04), top: false, xl: false, below: true, sq: 6 },
  { col: 1, row: 2, model: m94_05, obs: gridPts(o94_05).concat(pairPts(x94_05)), gap: gridPts(g94_05).concat(pairPts(y94_05)), top: false, xl: true, below: false, sq: 6 },
  { col: 2, row: 1, model: m75_04, obs: pairPts(o75_04), gap: gridPts(g75_04), top: true, xl: false, below: true, sq: 6.5 },
  { col: 2, row: 2, model: m75_05, obs: pairPts(o75_05), gap: gridPts(g75_05), top: false, xl: false, below: true, sq: 6.5 },
  { col: 2, row: 3, model: m75_06, obs: pairPts(o75_06), gap: pairPts(g75_06), top: false, xl: false, below: true, sq: 6.5 },
  { col: 2, row: 4, model: m75_07, obs: pairPts(o75_07), gap: gridPts(g75_07), top: false, xl: true, below: false, sq: 6.5 },
];

const XTick = ({ x, payload, axisY, labels, below }) => {
  const v = payload.value;
  const major = Math.abs(v - Math.round(v)) < 1e-6;
  const L = major ? 5 : 3;
  return (
    <g>
      <line x1={x} x2={x} y1={axisY} y2={axisY - L} stroke={AXIS} strokeWidth={1} />
      {below ? <line x1={x} x2={x} y1={axisY} y2={axisY + L} stroke={AXIS} strokeWidth={1} /> : null}
      {labels && major ? (
        <text x={x} y={axisY + 21} textAnchor="middle" fontSize={18} fontFamily={FONT} fill="#111" letterSpacing={0.8}>
          {xTickLabels[Math.round(v) - 170]}
        </text>
      ) : null}
    </g>
  );
};

const YTick = ({ y, payload, axisX, labels }) => {
  const v = payload.value;
  const major = v % 5 === 0;
  return (
    <g>
      <line x1={axisX} x2={axisX - (major ? 5 : 3)} y1={y} y2={y} stroke={AXIS} strokeWidth={1} />
      {labels.indexOf(v) >= 0 ? (
        <text x={axisX - 7} y={y} dy="0.36em" textAnchor="end" fontSize={18} fontFamily={FONT} fill="#111" letterSpacing={0.8}>
          {String(v)}
        </text>
      ) : null}
    </g>
  );
};

function Panel({ p }) {
  const col = COLS[p.col];
  const XH = p.xl ? 34 : 8;
  const H = MT + PH + XH;
  const axisY = MT + PH;
  const yl = p.top ? yLabelsTop : yLabelsRest;
  const sq = p.sq;
  const blackShape = (s) => <rect x={s.cx - sq / 2} y={s.cy - sq / 2} width={sq} height={sq} fill="#000" />;
  const redShape = (s) => <rect x={s.cx - 2.4} y={s.cy - 2.4} width={4.8} height={4.8} fill="none" stroke={RED} strokeWidth={1} />;
  const modelPts = gridPts(p.model);
  return (
    <div style={{ position: 'absolute', left: col.left - YW, top: ROW_TOPS[p.row] - MT }}>
      <ComposedChart width={YW + col.width + MR} height={H} margin={{ top: MT, right: MR, bottom: 0, left: 0 }}>
        <XAxis
          type="number"
          dataKey="x"
          domain={[170, 175]}
          ticks={xTicks}
          interval={0}
          height={XH}
          axisLine={{ stroke: AXIS, strokeWidth: 1 }}
          tickLine={false}
          tick={(tp) => <XTick {...tp} axisY={axisY} labels={p.xl} below={p.below} />}
        />
        <YAxis
          type="number"
          dataKey="y"
          domain={[-7.5, 15]}
          ticks={yTicks}
          interval={0}
          width={YW}
          axisLine={{ stroke: AXIS, strokeWidth: 1 }}
          tickLine={false}
          tick={(tp) => <YTick {...tp} axisX={YW} labels={yl} />}
        />
        <ReferenceLine y={0} stroke="#6a6a6a" strokeWidth={1.3} />
        <Line data={modelPts} dataKey="y" type="linear" stroke="#000" strokeWidth={1} dot={false} activeDot={false} isAnimationActive={false} />
        <Scatter data={p.gap} dataKey="y" shape={redShape} isAnimationActive={false} />
        <Scatter data={p.obs} dataKey="y" shape={blackShape} isAnimationActive={false} />
      </ComposedChart>
    </div>
  );
}

const yearBase = [57, 207, 337, 475, 618];
const ageBase02 = [55.5, 220.5, 355.5, 497.5, 636.5];
const ageBase94 = [55.5, 222.5, 360.5];
const ageBase75 = [207, 357, 498, 640];
const BLUE = '#3a53a5';

export default function App() {
  return (
    <div style={{ position: 'absolute', left: 0, top: 0, width: 1260, height: 807, background: '#fff', overflow: 'hidden' }}>
      {panels.map((p, i) => (
        <Panel key={i} p={p} />
      ))}
      <svg width={1260} height={807} style={{ position: 'absolute', left: 0, top: 0, pointerEvents: 'none' }}>
        {yearLabels.map((t, i) => (
          <text key={t} x={16} y={yearBase[i]} fontSize={18} fontWeight="bold" fontFamily={FONT} fill="#111" letterSpacing={1.5}>{t}</text>
        ))}
        <text x={333} y={55} textAnchor="middle" fontSize={19} fontWeight="bold" fontFamily={FONT} fill="#111" letterSpacing={2.4}>{siteNames[0]}</text>
        <text x={706} y={56} textAnchor="middle" fontSize={19} fontWeight="bold" fontFamily={FONT} fill="#111" letterSpacing={2.4}>{siteNames[1]}</text>
        <text x={1090} y={56} textAnchor="middle" fontSize={19} fontWeight="bold" fontFamily={FONT} fill="#111" letterSpacing={2.4}>{siteNames[2]}</text>
        <text x={437} y={26} fontSize={18} fontFamily={FONT} fill="#111" letterSpacing={1.5}>Age</text>
        <text x={837} y={26} fontSize={18} fontFamily={FONT} fill="#111" letterSpacing={1.5}>Age</text>
        <text x={1222} y={171} fontSize={18} fontFamily={FONT} fill="#111" letterSpacing={1.5}>Age</text>
        {agesHJP02.map((t, i) => (
          <text key={'a' + t} x={467} y={ageBase02[i]} textAnchor="end" fontSize={21} fontWeight="bold" fontFamily={FONT} fill={BLUE}>{t}</text>
        ))}
        {agesHJP94.map((t, i) => (
          <text key={'b' + t} x={862} y={ageBase94[i]} textAnchor="end" fontSize={21} fontWeight="bold" fontFamily={FONT} fill={BLUE}>{t}</text>
        ))}
        {agesHJP75.map((t, i) => (
          <text key={'c' + t} x={1253} y={ageBase75[i]} textAnchor="end" fontSize={21} fontWeight="bold" fontFamily={FONT} fill={BLUE}>{t}</text>
        ))}
        <text x={304} y={799} textAnchor="middle" fontSize={28} fontFamily={FONT} fill="#111" letterSpacing={4}>DOY</text>
        <text x={689} y={800} textAnchor="middle" fontSize={28} fontFamily={FONT} fill="#111" letterSpacing={4}>DOY</text>
        <text x={1074} y={799} textAnchor="middle" fontSize={28} fontFamily={FONT} fill="#111" letterSpacing={4}>DOY</text>
        <text transform="translate(101,389) rotate(-90)" textAnchor="middle" fontSize={28} fontFamily={FONT} fill="#111">
          CO<tspan fontSize={19} dy={8}>2</tspan>
          <tspan dy={-8}> Flux (μmol m</tspan>
          <tspan fontSize={19} dy={-11}>-2</tspan>
          <tspan dy={11}> s</tspan>
          <tspan fontSize={19} dy={-11}>-1</tspan>
          <tspan dy={11}>)</tspan>
        </text>
      </svg>
    </div>
  );
}
